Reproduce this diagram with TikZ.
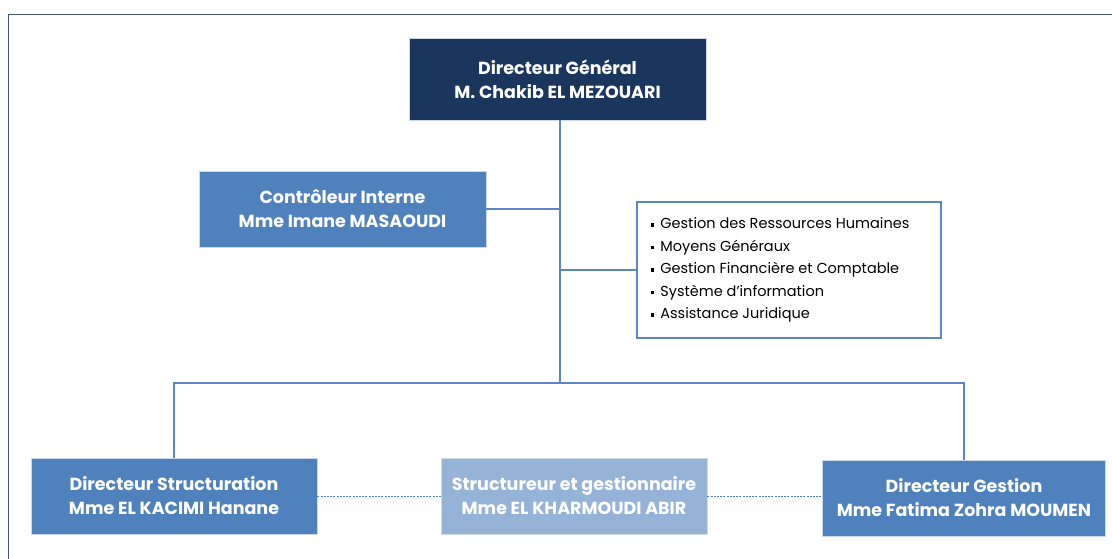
\documentclass[tikz,border=0pt]{standalone}
\usepackage{fontspec}
\setmainfont{Poppins}
\definecolor{navy}{HTML}{1B365D}
\definecolor{midblue}{HTML}{4F81BD}
\definecolor{paleblue}{HTML}{95B3D7}
\definecolor{linkblue}{HTML}{5A87C2}
\definecolor{framegray}{HTML}{44546A}
\tikzset{
  box/.style={rectangle, inner sep=0pt, text=white, align=center,
    font=\fontsize{17.5}{24}\selectfont\bfseries, draw=white!70!midblue, line width=0.6pt},
  link/.style={draw=linkblue, line width=1.3pt},
  dotlink/.style={draw=midblue, line width=0.9pt, dash pattern=on 2pt off 1.2pt},
}
\newcommand{\itm}{\raisebox{0.25ex}{\rule{3.2pt}{3.2pt}}\hspace{6pt}}
\begin{document}
\begin{tikzpicture}[x=1pt, y=-1pt]
  \useasboundingbox (0,0) rectangle (1112,559);
  % outer frame (continues past the right and bottom edges)
  \draw[framegray, line width=1.8pt] (8.5,570) -- (8.5,14.5) -- (1125,14.5);

  % nodes
  \node[box, fill=navy, minimum width=297pt, minimum height=82pt] (dg) at (557.5,79)
    {Directeur Général\\M. Chakib EL MEZOUARI};
  \node[box, fill=midblue, minimum width=287pt, minimum height=76pt] (ctrl) at (342.5,209)
    {Contrôleur Interne\\Mme Imane MASAOUDI};
  \node[rectangle, draw=linkblue, line width=1.2pt, fill=white, minimum width=304pt,
        minimum height=136pt, inner sep=0pt] (svc) at (789,270) {};
  \node[anchor=west, align=left, inner sep=0pt, font=\fontsize{14.5}{22.5}\selectfont] (svclist)
    at (651,270)
    {\itm Gestion des Ressources Humaines\\
     \itm Moyens Généraux\\
     \itm Gestion Financière et Comptable\\
     \itm Système d’information\\
     \itm Assistance Juridique};
  \node[box, fill=midblue, minimum width=286pt, minimum height=76pt] (dstr) at (174,496)
    {Directeur Structuration\\Mme EL KACIMI Hanane};
  \node[box, fill=paleblue, minimum width=266pt, minimum height=76pt] (sg) at (574,496)
    {Structureur et gestionnaire\\Mme EL KHARMOUDI ABIR};
  \node[box, fill=midblue, minimum width=283pt, minimum height=76pt] (dgest) at (964,498)
    {Directeur Gestion\\Mme Fatima Zohra MOUMEN};

  % connectors
  \coordinate (busC) at (560,383);
  \coordinate (busL) at (dstr.north |- busC);
  \coordinate (busR) at (dgest.north |- busC);
  \draw[link] (dg.south -| busC) -- (busC);
  \draw[link] (ctrl.east) -- (ctrl.east -| busC);
  \draw[link] (svc.west -| busC) -- (svc.west);
  \draw[link] (dstr.north) -- (busL) -- (busR) -- (dgest.north);
  \draw[dotlink] (dstr.east) -- (sg.west);
  \draw[dotlink] (sg.east) -- (dgest.west |- sg.east);
\end{tikzpicture}
\end{document}
